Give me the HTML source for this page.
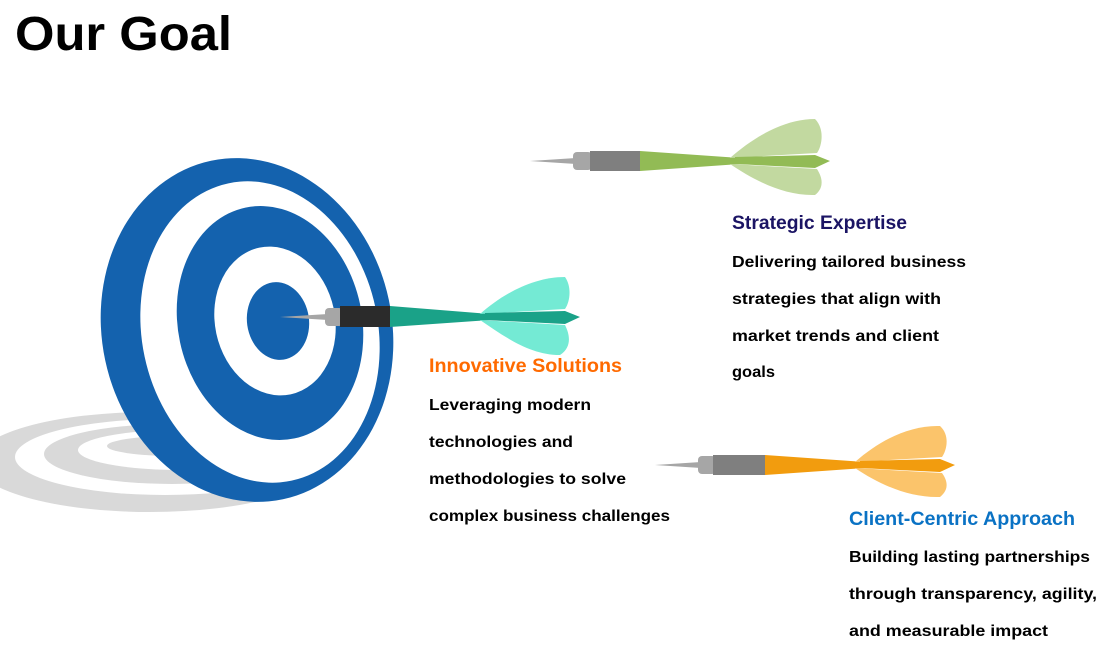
<!DOCTYPE html>
<html><head><meta charset="utf-8"><style>
html,body{margin:0;padding:0;background:#fff;width:1120px;height:670px;overflow:hidden}
svg{display:block}
.h{font-family:"Liberation Sans",sans-serif;font-weight:bold;font-size:19px}
.b{font-family:"Liberation Sans",sans-serif;font-weight:bold;font-size:16px;fill:#000}
</style></head><body>
<svg width="1120" height="670" viewBox="0 0 1120 670">
<text x="15" y="50" font-family="Liberation Sans, sans-serif" font-weight="bold" font-size="48" textLength="217" lengthAdjust="spacingAndGlyphs">Our Goal</text>

<g>
<ellipse cx="150" cy="462" rx="175" ry="50" fill="#d9d9d9"/>
<ellipse cx="165" cy="457" rx="150" ry="38" fill="#fff"/>
<ellipse cx="172" cy="454" rx="128" ry="30" fill="#d9d9d9"/>
<ellipse cx="180" cy="450" rx="102" ry="20" fill="#fff"/>
<ellipse cx="175" cy="446" rx="68" ry="10" fill="#d9d9d9"/>
</g>
<g>
<ellipse cx="247" cy="330" rx="145" ry="173" fill="#1462ae" transform="rotate(-12 247 330)"/>
<ellipse cx="260" cy="332" rx="118" ry="152" fill="#fff" transform="rotate(-12 260 332)"/>
<ellipse cx="270" cy="323" rx="92" ry="118" fill="#1462ae" transform="rotate(-12 270 323)"/>
<ellipse cx="275" cy="321" rx="60" ry="75" fill="#fff" transform="rotate(-12 275 321)"/>
<ellipse cx="278" cy="321" rx="31" ry="39" fill="#1462ae" transform="rotate(-8 278 321)"/>
</g>

<g transform="translate(280,317)">
<polygon points="0,0 48,-3 48,3" fill="#a6a6a6"/>
<rect x="45" y="-9" width="18" height="18" rx="4" fill="#a6a6a6"/>
<rect x="60" y="-11" width="50" height="21" fill="#2b2b2b"/>
<polygon points="110,-11 210,-3 210,3 110,10" fill="#1aa288"/>
<path d="M200,-3 C225,-25 255,-40 285,-40 C292,-30 290,-15 285,-8 Z" fill="#74ead4"/>
<path d="M200,3 C225,20 250,38 280,38 C292,30 290,18 285,8 Z" fill="#74ead4"/>
<polygon points="205,-4 285,-6 300,0 285,7 205,3" fill="#1aa288"/>
</g>

<g transform="translate(530,161)">
<polygon points="0,0 46,-3 46,3" fill="#a6a6a6"/>
<rect x="43" y="-9" width="19" height="18" rx="4" fill="#a6a6a6"/>
<rect x="60" y="-10" width="50" height="20" fill="#7f7f7f"/>
<polygon points="110,-10 210,-3 210,3 110,10" fill="#92bb55"/>
<path d="M200,-3 C225,-25 255,-42 285,-42 C295,-32 292,-15 287,-8 Z" fill="#c2d9a0"/>
<path d="M200,3 C225,20 255,35 285,34 C295,26 292,16 287,8 Z" fill="#c2d9a0"/>
<polygon points="205,-4 285,-6 300,0 285,7 205,3" fill="#92bb55"/>
</g>

<g transform="translate(655,465)">
<polygon points="0,0 46,-3 46,3" fill="#a6a6a6"/>
<rect x="43" y="-9" width="18" height="18" rx="4" fill="#a6a6a6"/>
<rect x="58" y="-10" width="52" height="20" fill="#7f7f7f"/>
<polygon points="110,-10 210,-3 210,3 110,10" fill="#f29c0e"/>
<path d="M200,-3 C225,-25 255,-40 285,-39 C295,-30 292,-15 287,-8 Z" fill="#fbc46b"/>
<path d="M200,3 C225,20 255,33 285,32 C295,24 292,15 287,8 Z" fill="#fbc46b"/>
<polygon points="205,-4 285,-6 300,0 285,7 205,3" fill="#f29c0e"/>
</g>

<g>
<text class="h" x="732" y="229" fill="#1b1464" textLength="175" lengthAdjust="spacingAndGlyphs">Strategic Expertise</text>
<text class="b" x="732" y="267" textLength="234" lengthAdjust="spacingAndGlyphs">Delivering tailored business</text>
<text class="b" x="732" y="304" textLength="209" lengthAdjust="spacingAndGlyphs">strategies that align with</text>
<text class="b" x="732" y="341" textLength="207" lengthAdjust="spacingAndGlyphs">market trends and client</text>
<text class="b" x="732" y="377" textLength="43" lengthAdjust="spacingAndGlyphs">goals</text>
</g>
<g>
<text class="h" x="429" y="372" fill="#ff6a00" textLength="193" lengthAdjust="spacingAndGlyphs">Innovative Solutions</text>
<text class="b" x="429" y="410" textLength="162" lengthAdjust="spacingAndGlyphs">Leveraging modern</text>
<text class="b" x="429" y="447" textLength="144" lengthAdjust="spacingAndGlyphs">technologies and</text>
<text class="b" x="429" y="484" textLength="197" lengthAdjust="spacingAndGlyphs">methodologies to solve</text>
<text class="b" x="429" y="521" textLength="241" lengthAdjust="spacingAndGlyphs">complex business challenges</text>
</g>
<g>
<text class="h" x="849" y="525" fill="#0a72c4" textLength="226" lengthAdjust="spacingAndGlyphs">Client-Centric Approach</text>
<text class="b" x="849" y="562" textLength="241" lengthAdjust="spacingAndGlyphs">Building lasting partnerships</text>
<text class="b" x="849" y="599" textLength="248" lengthAdjust="spacingAndGlyphs">through transparency, agility,</text>
<text class="b" x="849" y="636" textLength="199" lengthAdjust="spacingAndGlyphs">and measurable impact</text>
</g>
</svg>
</body></html>
